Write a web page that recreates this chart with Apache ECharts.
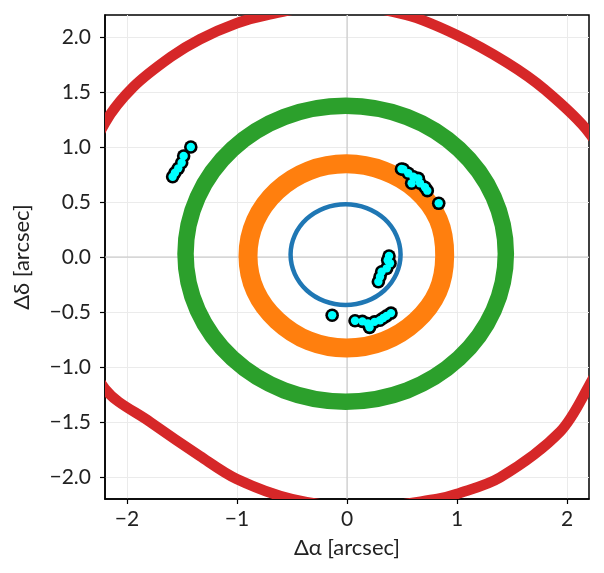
<!DOCTYPE html>
<html>
<head>
<meta charset="utf-8">
<script src="https://cdn.jsdelivr.net/npm/echarts@6/dist/echarts.min.js"></script>
<style>
html,body{margin:0;padding:0;background:#fff;}
#chart{width:604px;height:573px;}
</style>
</head>
<body>
<div id="chart"></div>
<script>
// ---- data ----
var xTicks = [-2, -1, 0, 1, 2];
var yTicks = [-2, -1.5, -1, -0.5, 0, 0.5, 1, 1.5, 2];
var axisMin = -2.2, axisMax = 2.2;

var ringBlue = [
  [0.487, 0.022], [0.449, 0.197], [0.341, 0.346], [0.179, 0.445],
  [-0.013, 0.480], [-0.205, 0.445], [-0.367, 0.346], [-0.475, 0.197],
  [-0.513, 0.022], [-0.475, -0.153], [-0.367, -0.302], [-0.205, -0.401],
  [-0.013, -0.436], [0.179, -0.401], [0.341, -0.302], [0.449, -0.153]
];
var ringOrange = [
  [0.888, 0.01], [0.83, 0.34], [0.63, 0.61], [0.336, 0.783],
  [-0.006, 0.847], [-0.348, 0.783], [-0.638, 0.600], [-0.832, 0.330],
  [-0.900, 0.01], [-0.832, -0.310], [-0.635, -0.577], [-0.345, -0.763],
  [-0.006, -0.827], [0.336, -0.765], [0.625, -0.585], [0.825, -0.315]
];
var ringGreen = [
  [1.444, 0.03], [1.333, 0.545], [1.018, 0.981], [0.546, 1.273],
  [-0.012, 1.375], [-0.570, 1.273], [-1.042, 0.981], [-1.357, 0.545],
  [-1.468, 0.03], [-1.357, -0.485], [-1.042, -0.921], [-0.570, -1.213],
  [-0.012, -1.315], [0.546, -1.213], [1.018, -0.921], [1.333, -0.485]
];
var ringRed = [
  [2.6, -0.03], [2.49, 0.62], [2.2, 1.13], [1.8, 1.52], [1.452, 1.768],
  [0.997, 2.018], [0.54, 2.2], [-0.1, 2.3], [-0.73, 2.2], [-1.003, 2.125],
  [-1.336, 1.98], [-1.6, 1.82], [-1.943, 1.545], [-2.2, 1.22],
  [-2.45, 0.65], [-2.58, 0.0], [-2.45, -0.65], [-2.2, -1.2],
  [-1.79, -1.5], [-1.336, -1.81], [-1.003, -2.018], [-0.5, -2.2],
  [0.16, -2.28], [0.82, -2.2], [0.997, -2.155], [1.391, -2.005],
  [1.936, -1.59], [2.2, -1.17], [2.49, -0.6]
];
var detections = [
  // upper left
  [-1.42, 1.00], [-1.485, 0.918], [-1.503, 0.857], [-1.534, 0.806], [-1.564, 0.766], [-1.585, 0.73],
  // upper right
  [0.495, 0.80], [0.512, 0.797], [0.557, 0.761], [0.603, 0.730], [0.648, 0.715], [0.588, 0.670],
  [0.664, 0.670], [0.709, 0.634], [0.730, 0.603], [0.834, 0.488],
  // middle right
  [0.382, 0.009], [0.37, -0.03], [0.391, -0.057], [0.361, -0.103], [0.315, -0.134], [0.30, -0.179], [0.285, -0.225],
  // bottom
  [-0.135, -0.53], [0.073, -0.579], [0.14, -0.585], [0.19, -0.605], [0.205, -0.64], [0.25, -0.59],
  [0.30, -0.575], [0.33, -0.555], [0.36, -0.535], [0.40, -0.51]
];

function fmt(v, d) { return (v < 0 ? '\u2212' : '') + Math.abs(v).toFixed(d); }

var FONT = 'Lato, "DejaVu Sans", sans-serif';

// closed smooth ring through the read points, mapped with the axes' scales
function ring(data, color, width) {
  return {
    type: 'custom', coordinateSystem: 'cartesian2d', data: data, silent: true, z: 3,
    animation: false,
    renderItem: function (params, api) {
      if (params.dataIndex !== 0) return null;
      var pts = data.map(function (p) { return api.coord(p); });
      var cs = params.coordSys;
      return {
        type: 'polygon',
        shape: { points: pts, smooth: 0.33 },
        style: { fill: 'none', stroke: color, lineWidth: width, lineJoin: 'round' },
        clipPath: { type: 'rect', shape: { x: cs.x, y: cs.y, width: cs.width, height: cs.height } }
      };
    }
  };
}

var chart = echarts.init(document.getElementById('chart'), null, { renderer: 'canvas' });
chart.setOption({
  animation: false,
  backgroundColor: '#fff',
  grid: { left: 105, top: 15, width: 484, height: 484, show: true, borderColor: '#000', borderWidth: 1.5, backgroundColor: 'transparent' },
  xAxis: {
    type: 'value', min: axisMin, max: axisMax,
    name: 'Δα [arcsec]', nameLocation: 'middle', nameGap: 38,
    nameTextStyle: { fontFamily: FONT, fontSize: 22, color: '#222' },
    axisLine: { show: true, onZero: false, lineStyle: { color: '#000', width: 1.5 } },
    axisTick: { show: true, inside: false, length: 5, customValues: xTicks, lineStyle: { color: '#000', width: 1.2 } },
    axisLabel: { margin: 10, customValues: xTicks, fontFamily: FONT, fontSize: 21, color: '#222', formatter: function (v) { return fmt(v, 0); } },
    splitLine: { show: true, lineStyle: { color: '#ebebeb', width: 1 } }
  },
  yAxis: {
    type: 'value', min: axisMin, max: axisMax,
    name: 'Δδ [arcsec]', nameLocation: 'middle', nameGap: 72, nameRotate: 90,
    nameTextStyle: { fontFamily: FONT, fontSize: 22, color: '#222' },
    axisLine: { show: true, onZero: false, lineStyle: { color: '#000', width: 1.5 } },
    axisTick: { show: true, inside: false, length: 5, customValues: yTicks, lineStyle: { color: '#000', width: 1.2 } },
    axisLabel: { margin: 14, customValues: yTicks, fontFamily: FONT, fontSize: 21, color: '#222', formatter: function (v) { return fmt(v, 1); } },
    splitLine: { show: true, lineStyle: { color: '#ebebeb', width: 1 } }
  },
  series: [
    { type: 'line', data: [[0, axisMin], [0, axisMax]], symbol: 'none', lineStyle: { color: '#c4c4c4', width: 1 }, z: 1, silent: true },
    { type: 'line', data: [[axisMin, 0], [axisMax, 0]], symbol: 'none', lineStyle: { color: '#c4c4c4', width: 1 }, z: 1, silent: true },
    ring(ringBlue, '#1f77b4', 4.5),
    ring(ringOrange, '#ff7f0e', 19),
    ring(ringGreen, '#2ca02c', 16.5),
    ring(ringRed, '#d62728', 10.5),
    { type: 'scatter', data: detections, symbol: 'circle', symbolSize: 13.6, itemStyle: { color: '#000', opacity: 1 }, z: 5, silent: true },
    { type: 'scatter', data: detections, symbol: 'circle', symbolSize: 8.4, itemStyle: { color: '#00ffff', opacity: 1 }, z: 6, silent: true }
  ]
});
</script>
</body>
</html>
